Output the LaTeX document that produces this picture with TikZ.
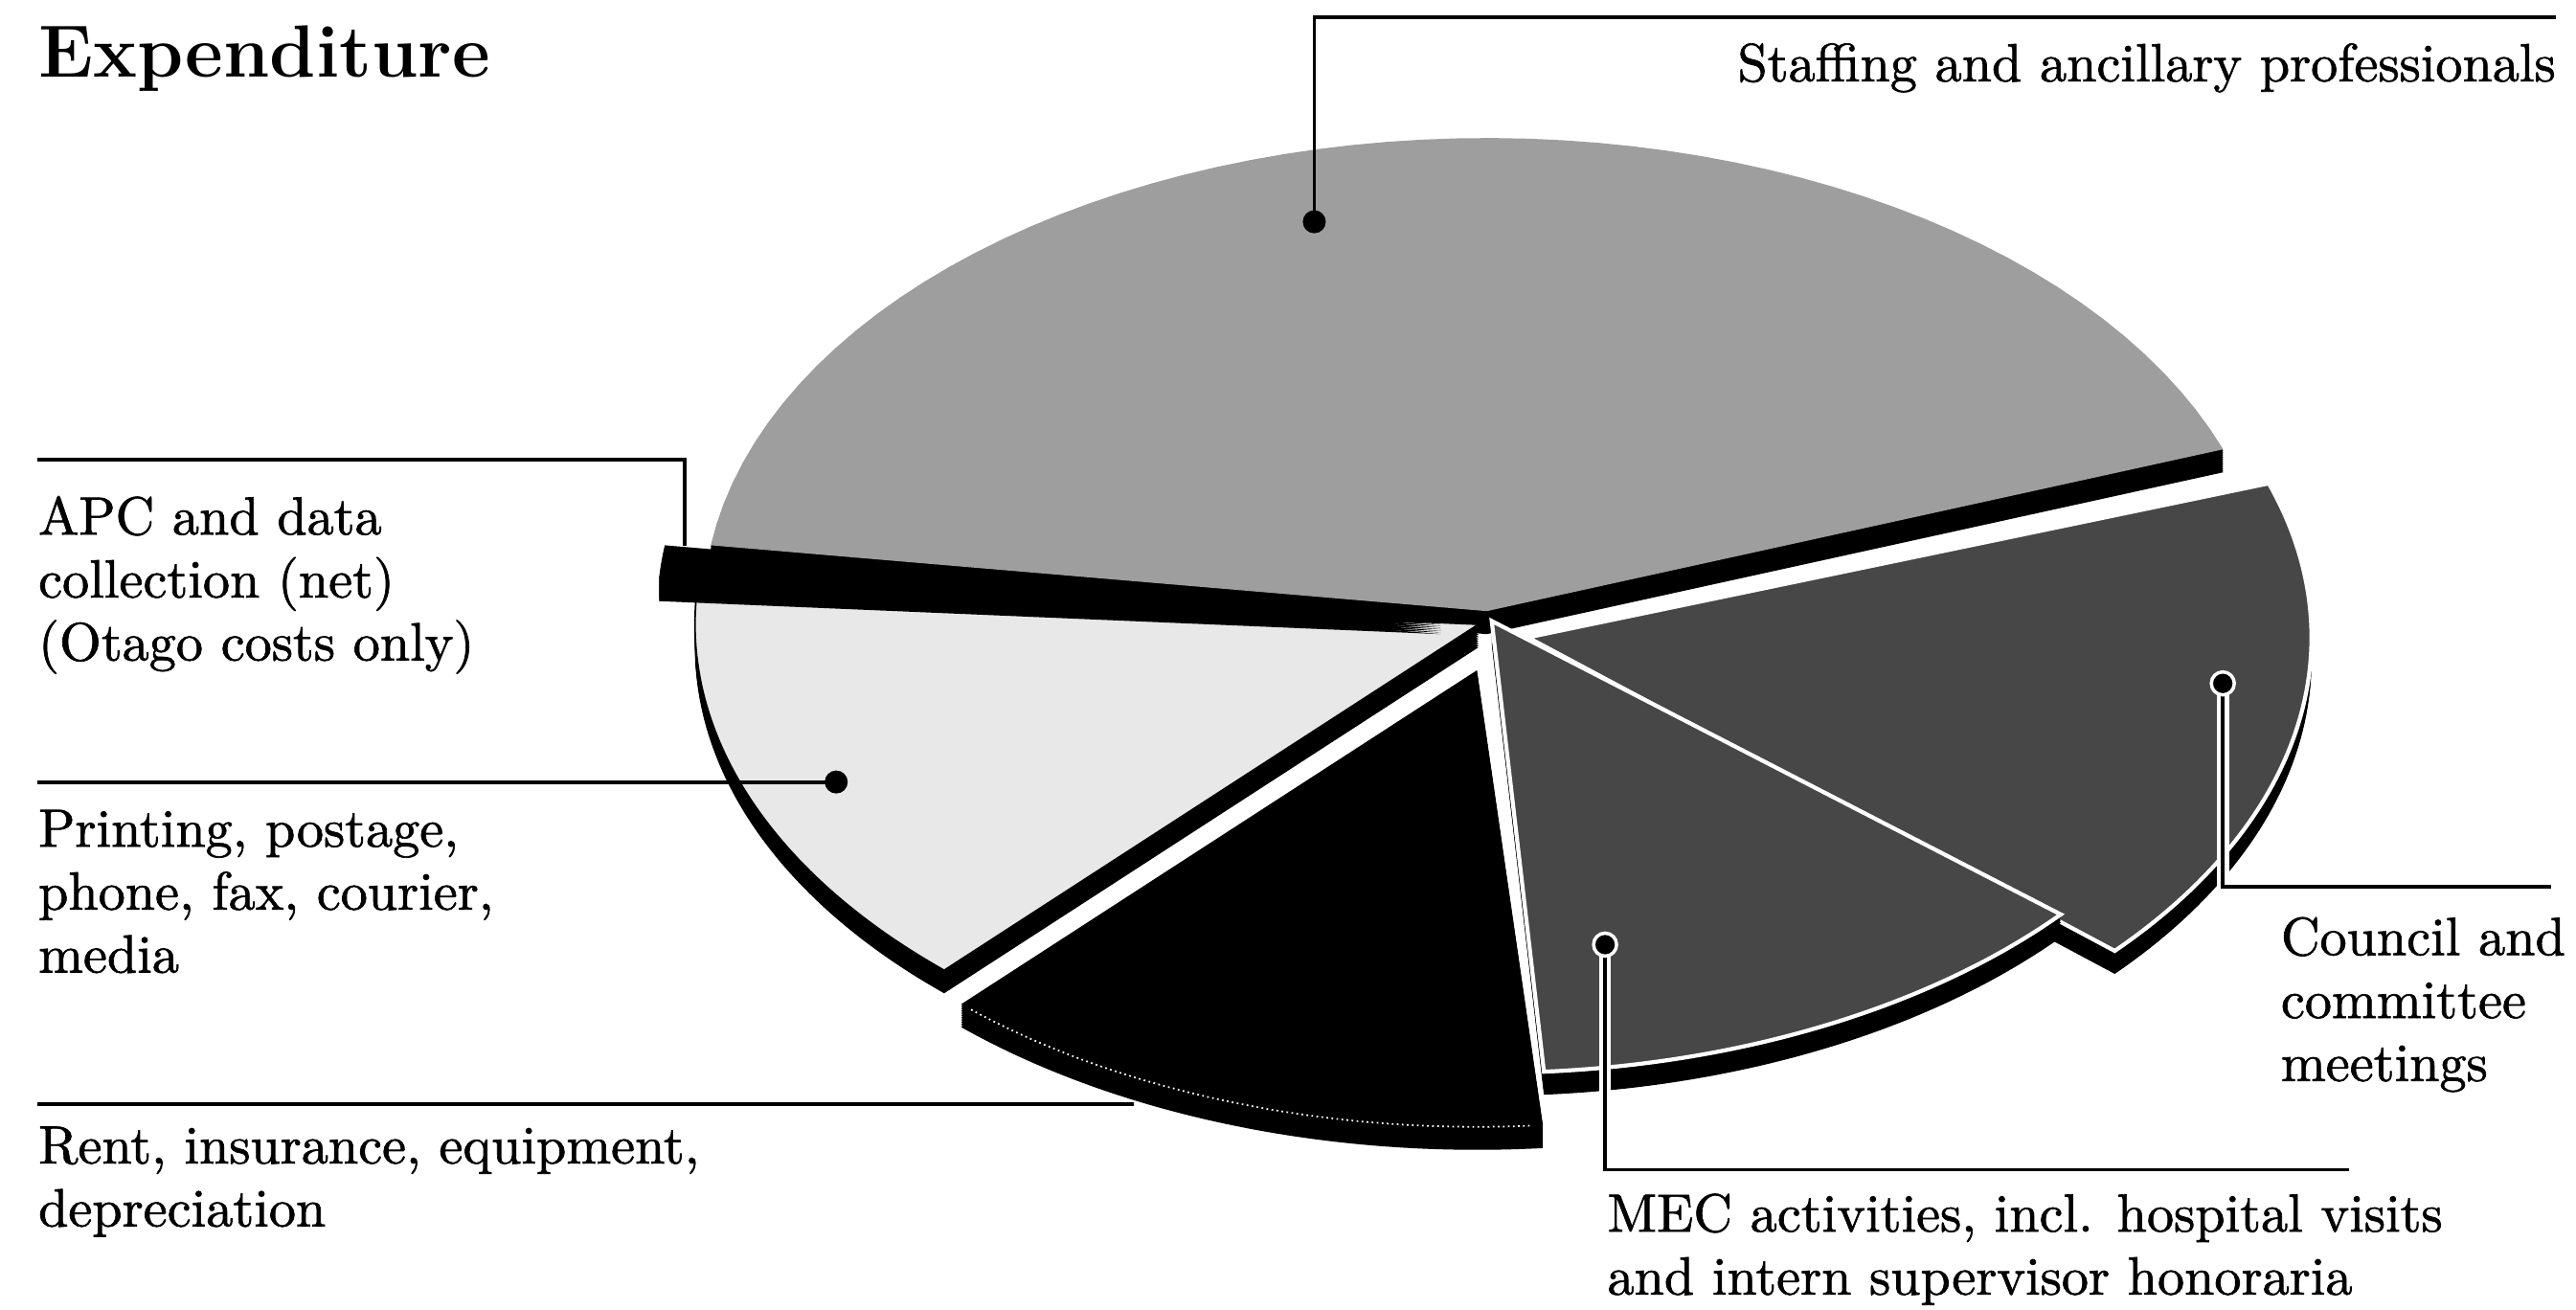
\documentclass[tikz,border=0pt]{standalone}
\usepackage{fontspec}
\newfontfamily\labelfont{lmroman10-regular.otf}[FakeBold=1.2]
\usetikzlibrary{positioning}

% one slice of the tilted pie: x shift, y shift, radius factor, start, end
\tikzset{
  wedge/.style n args={5}{insert path={
    ({905+(#1)},{372+(#2)}) -- plot[domain=#4:#5, samples=60, variable=\t]
      ({905+(#1)+#3*477*cos(\t)}, {372+(#2)+#3*288*sin(\t)}) -- cycle}},
  lbl/.style={font=\labelfont\fontsize{16}{18.7}\selectfont, align=left, inner sep=0pt},
  heading/.style={font=\fontsize{22}{26}\selectfont\bfseries, inner sep=0pt},
  leader/.style={line width=1.1pt},
  casing/.style={white, line width=3.6pt},
  ring/.style={fill=black, draw=white, line width=1pt},
}

% slice with its black thickness underneath
\newcommand\solidwedge[6]{%
  \foreach \k in {1,...,14}{\fill[black][wedge={#2}{#3+\k}{#4}{#5}{#6}];}
  \path[#1][wedge={#2}{#3}{#4}{#5}{#6}];
}

\begin{document}
\begin{tikzpicture}[x=0.17156mm, y=-0.17156mm]
  \useasboundingbox (0,0) rectangle (1568,797);

  % pie
  \solidwedge{fill=black!38}{0}{0}{1}{188}{340}
  \solidwedge{fill=black!72, draw=white, line width=1.2pt}{25}{16}{1}{341}{401.5}
  \solidwedge{fill=black!9, draw=black, line width=0.5pt}{-5}{8}{1}{133}{184}
  \solidwedge{fill=black}{-28}{0}{1}{184}{188}
  \solidwedge{fill=black!72, draw=white, line width=1.2pt}{3}{6}{0.955}{40.5}{86}
  \solidwedge{fill=black}{-6}{36}{0.965}{85}{133}
  \draw[white, densely dotted, line width=0.5pt]
    plot[domain=86:132, samples=40, variable=\t]
      ({899+0.965*477*cos(\t)}, {408+0.965*288*sin(\t)});

  % leader ends
  \coordinate (staffdot) at (800,135);
  \coordinate (staffend) at (1556,10.5);
  \coordinate (apcbar) at (417,332);
  \coordinate (apcend) at (23,280);
  \coordinate (printdot) at (509,476);
  \coordinate (printend) at (23,476);
  \coordinate (rentedge) at (690,672);
  \coordinate (rentend) at (23,672);
  \coordinate (councildot) at (1353,416);
  \coordinate (councilend) at (1553,540);
  \coordinate (mecdot) at (977,575);
  \coordinate (mecend) at (1430,712);

  \draw[leader] (staffdot) |- (staffend);
  \fill (staffdot) circle[radius=7];
  \draw[leader] (apcbar) |- (apcend);
  \draw[leader] (printdot) -- (printend);
  \fill (printdot) circle[radius=7];
  \draw[leader] (rentedge) -- (rentend);
  \draw[casing] (councildot) -- (councildot |- councilend);
  \draw[leader] (councildot) |- (councilend);
  \filldraw[ring] (councildot) circle[radius=7];
  \draw[casing] (mecdot) -- (mecdot |- mecend);
  \draw[leader] (mecdot) |- (mecend);
  \filldraw[ring] (mecdot) circle[radius=7];

  % texts (anchored on the last line)
  \node[heading, anchor=base west] (title) at (23,47) {Expenditure};
  \node[lbl, anchor=base east] (staffing) at (1556,49.5) {Staffing and ancillary professionals};
  \node[lbl, anchor=base west] (apc) at (23,402) {APC and data\\collection (net)\\(Otago costs only)};
  \node[lbl, anchor=base west] (printing) at (23,592) {Printing, postage,\\phone, fax, courier,\\media};
  \node[lbl, anchor=base west] (rent) at (23,746.5) {Rent, insurance, equipment,\\depreciation};
  \node[lbl, anchor=base west] (council) at (1388,658) {Council and\\committee\\meetings};
  \node[lbl, anchor=base west] (mec) at (978,788) {MEC activities, incl. hospital visits\\and intern supervisor honoraria};
\end{tikzpicture}
\end{document}
